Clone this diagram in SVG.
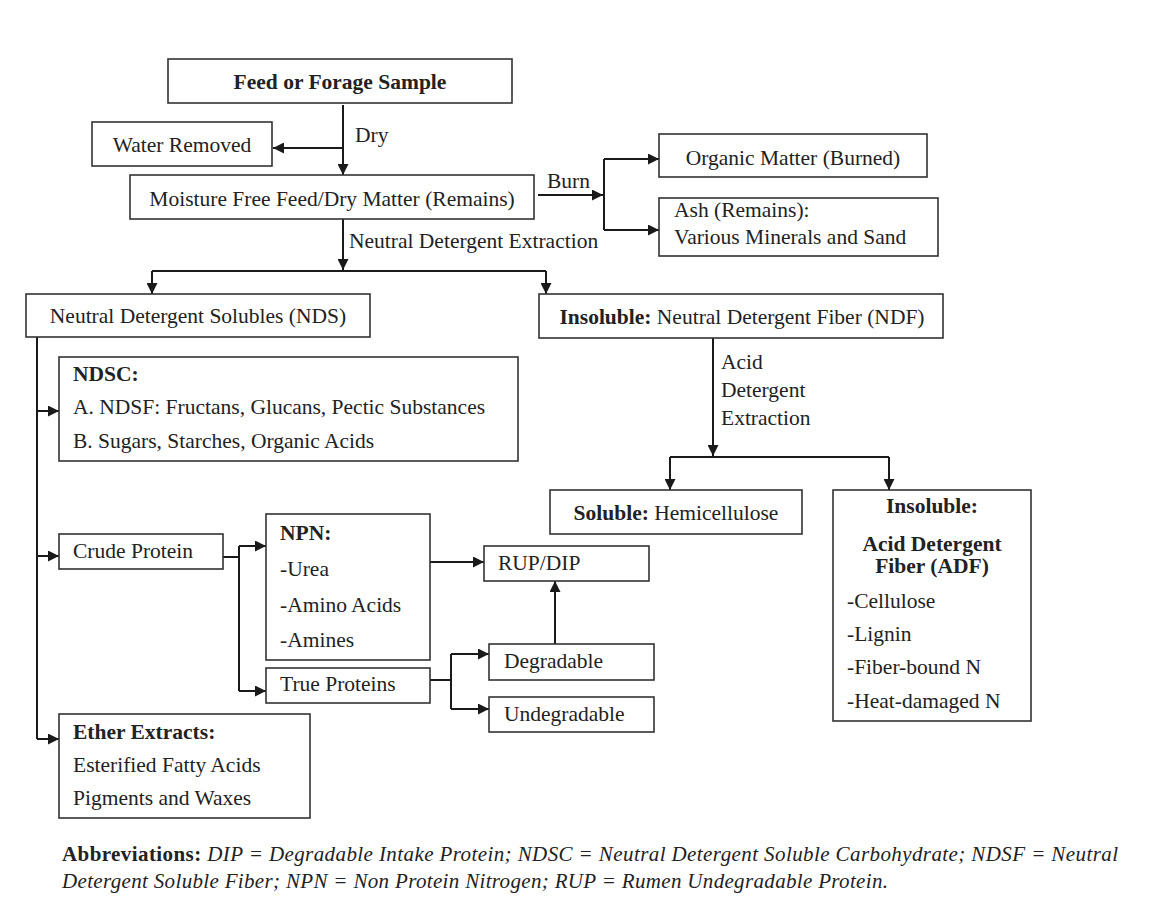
<svg xmlns="http://www.w3.org/2000/svg" width="1154" height="920" viewBox="0 0 1154 920">
<defs>
<style>
.box{fill:#fff;stroke:#333;stroke-width:1.6}
.t{font-family:"Liberation Serif","Times New Roman",serif;font-size:21.5px;fill:#222}
.b{font-weight:bold}
.c{text-anchor:middle}
.ab{font-family:"Liberation Serif","Times New Roman",serif;font-size:21px;fill:#222;font-style:italic}
.con path{fill:none;stroke:#1a1a1a;stroke-width:2}
</style>
<marker id="ah" markerUnits="userSpaceOnUse" viewBox="0 0 10 10" refX="10" refY="5" markerWidth="11" markerHeight="11" orient="auto">
<path d="M0,0 L10,5 L0,10 z" fill="#1a1a1a"/>
</marker>
</defs>
<rect width="1154" height="920" fill="#fff"/>

<g id="connectors" class="con">
<path d="M343 105 V175" marker-end="url(#ah)"/>
<path d="M343 148 H273" marker-end="url(#ah)"/>
<path d="M538 195 H603" marker-end="url(#ah)"/>
<path d="M604 159 V230"/>
<path d="M604 159 H659" marker-end="url(#ah)"/>
<path d="M604 230 H659" marker-end="url(#ah)"/>
<path d="M343 219 V270" marker-end="url(#ah)"/>
<path d="M152 271 H546"/>
<path d="M152 271 V294" marker-end="url(#ah)"/>
<path d="M546 271 V294" marker-end="url(#ah)"/>
<path d="M37 337 V739"/>
<path d="M37 411 H59" marker-end="url(#ah)"/>
<path d="M37 556 H59" marker-end="url(#ah)"/>
<path d="M37 739 H59" marker-end="url(#ah)"/>
<path d="M223 557 H239"/>
<path d="M239 546 V691"/>
<path d="M239 546 H266" marker-end="url(#ah)"/>
<path d="M239 691 H266" marker-end="url(#ah)"/>
<path d="M430 562 H484" marker-end="url(#ah)"/>
<path d="M430 680 H451"/>
<path d="M451 654 V709"/>
<path d="M451 654 H489" marker-end="url(#ah)"/>
<path d="M451 709 H489" marker-end="url(#ah)"/>
<path d="M555 644 V581" marker-end="url(#ah)"/>
<path d="M713 338 V456" marker-end="url(#ah)"/>
<path d="M670 457 H889"/>
<path d="M670 457 V490" marker-end="url(#ah)"/>
<path d="M889 457 V490" marker-end="url(#ah)"/>
</g>

<g id="labels">
<text class="t" x="355" y="142">Dry</text>
<text class="t" x="547" y="188">Burn</text>
<text class="t" x="349" y="248">Neutral Detergent Extraction</text>
<text class="t" x="721" y="369">Acid</text>
<text class="t" x="721" y="397">Detergent</text>
<text class="t" x="721" y="425">Extraction</text>
</g>

<g id="feed">
<rect class="box" x="168" y="59" width="344" height="44"/>
<text class="t b c" x="340" y="89">Feed or Forage Sample</text>
</g>
<g id="water">
<rect class="box" x="92" y="122" width="180" height="44"/>
<text class="t c" x="182" y="152">Water Removed</text>
</g>
<g id="moisture">
<rect class="box" x="130" y="175" width="404" height="44"/>
<text class="t c" x="332" y="206">Moisture Free Feed/Dry Matter (Remains)</text>
</g>
<g id="organic">
<rect class="box" x="659" y="134" width="268" height="43"/>
<text class="t c" x="793" y="165">Organic Matter (Burned)</text>
</g>
<g id="ash">
<rect class="box" x="659" y="198" width="279" height="58"/>
<text class="t" x="674" y="217">Ash (Remains):</text>
<text class="t" x="674" y="244">Various Minerals and Sand</text>
</g>
<g id="nds">
<rect class="box" x="26" y="294" width="344" height="43"/>
<text class="t c" x="198" y="323">Neutral Detergent Solubles (NDS)</text>
</g>
<g id="ndf">
<rect class="box" x="539" y="294" width="404" height="44"/>
<text class="t c" x="742" y="324"><tspan class="b">Insoluble:</tspan> Neutral Detergent Fiber (NDF)</text>
</g>
<g id="ndsc">
<rect class="box" x="59" y="357" width="459" height="104"/>
<text class="t b" x="73" y="381">NDSC:</text>
<text class="t" x="73" y="414">A. NDSF: Fructans, Glucans, Pectic Substances</text>
<text class="t" x="73" y="448">B. Sugars, Starches, Organic Acids</text>
</g>
<g id="crude">
<rect class="box" x="59" y="534" width="164" height="35"/>
<text class="t" x="73" y="558">Crude Protein</text>
</g>
<g id="npn">
<rect class="box" x="266" y="514" width="164" height="146"/>
<text class="t b" x="280" y="540">NPN:</text>
<text class="t" x="280" y="576">-Urea</text>
<text class="t" x="280" y="612">-Amino Acids</text>
<text class="t" x="280" y="647">-Amines</text>
</g>
<g id="true">
<rect class="box" x="266" y="668" width="164" height="35"/>
<text class="t" x="280" y="691">True Proteins</text>
</g>
<g id="rupdip">
<rect class="box" x="484" y="546" width="165" height="35"/>
<text class="t" x="498" y="570">RUP/DIP</text>
</g>
<g id="degradable">
<rect class="box" x="489" y="644" width="165" height="36"/>
<text class="t" x="504" y="668">Degradable</text>
</g>
<g id="undegradable">
<rect class="box" x="489" y="697" width="165" height="35"/>
<text class="t" x="504" y="721">Undegradable</text>
</g>
<g id="ether">
<rect class="box" x="59" y="714" width="251" height="104"/>
<text class="t b" x="73" y="739">Ether Extracts:</text>
<text class="t" x="73" y="772">Esterified Fatty Acids</text>
<text class="t" x="73" y="805">Pigments and Waxes</text>
</g>
<g id="soluble">
<rect class="box" x="550" y="490" width="252" height="44"/>
<text class="t c" x="676" y="520"><tspan class="b">Soluble:</tspan> Hemicellulose</text>
</g>
<g id="adf">
<rect class="box" x="833" y="490" width="198" height="231"/>
<text class="t b c" x="932" y="513">Insoluble:</text>
<text class="t b c" x="932" y="551">Acid Detergent</text>
<text class="t b c" x="932" y="573">Fiber (ADF)</text>
<text class="t" x="847" y="608">-Cellulose</text>
<text class="t" x="847" y="641">-Lignin</text>
<text class="t" x="847" y="674">-Fiber-bound N</text>
<text class="t" x="847" y="708">-Heat-damaged N</text>
</g>

<g id="abbreviations">
<text class="ab" x="62" y="861" textLength="1056" lengthAdjust="spacing"><tspan font-style="normal" font-weight="bold">Abbreviations:</tspan> DIP = Degradable Intake Protein; NDSC = Neutral Detergent Soluble Carbohydrate; NDSF = Neutral</text>
<text class="ab" x="62" y="888" textLength="826" lengthAdjust="spacing">Detergent Soluble Fiber; NPN = Non Protein Nitrogen; RUP = Rumen Undegradable Protein.</text>
</g>
</svg>
